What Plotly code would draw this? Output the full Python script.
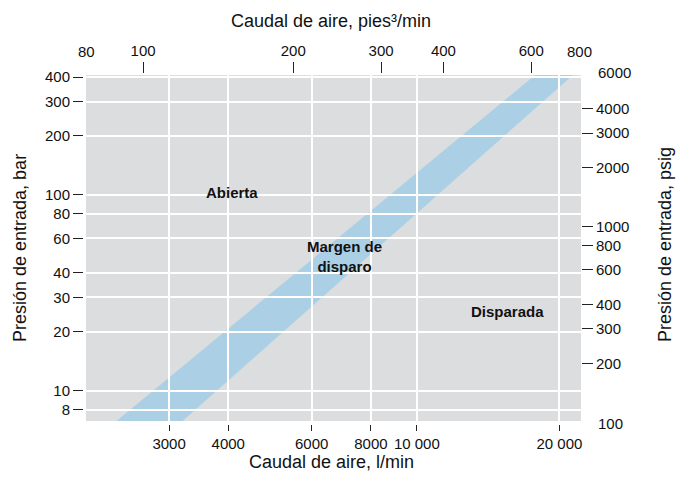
import numpy as np
import plotly.graph_objects as go

# ---------------- data ----------------
flow_lmin_ticks = [3000, 4000, 6000, 8000, 10000, 20000]
flow_lmin_labels = ["3000", "4000", "6000", "8000", "10 000", "20 000"]
flow_cfm_ticks = [100, 200, 300, 400, 600]
flow_cfm_edge_labels = ["80", "800"]
press_bar_ticks = [8, 10, 20, 30, 40, 60, 80, 100, 200, 300, 400]
press_psi_ticks = [200, 300, 400, 600, 800, 1000, 2000, 3000, 4000]
press_psi_edge_labels = ["100", "6000"]

# trip band (pressure in bar, flow in l/min)
band_pressure_bar = [6.8, 420]
band_flow_low = [2290, 18000]
band_flow_high = [3160, 21600]

region_labels = ["Abierta", "Margen de<br>disparo", "Disparada"]
region_flow = [4070, 7020, 15570]
region_press = [103, 48.7, 25.5]

# ---------------- styling ----------------
FONT = "Liberation Sans, Arial, Helvetica, sans-serif"
BG = "#dcdddf"
BAND = "#abd0e6"
TXT = "#111111"
TICKC = "#222222"

x_range = [3.3018, 4.3465]     # log10 l/min
y_range = [0.845, 2.6125]      # log10 bar
xt_range = [1.8856, 2.8778]    # log10 cfm
yr_range = [2.0065, 3.774]     # log10 psig

fig = go.Figure()

# band on base subplot (below the grid subplot)
fig.add_trace(go.Scatter(
    x=[band_flow_low[0], band_flow_low[1], band_flow_high[1], band_flow_high[0], band_flow_low[0]],
    y=[band_pressure_bar[0], band_pressure_bar[1], band_pressure_bar[1], band_pressure_bar[0], band_pressure_bar[0]],
    fill="toself", fillcolor=BAND, mode="lines", line=dict(width=0, color=BAND),
    hoverinfo="skip", showlegend=False, xaxis="x", yaxis="y"))

# helper empty traces so all axes are drawn
fig.add_trace(go.Scatter(x=[], y=[], xaxis="x2", yaxis="y2", showlegend=False))
fig.add_trace(go.Scatter(x=[], y=[], xaxis="x3", yaxis="y2", showlegend=False))
fig.add_trace(go.Scatter(x=[], y=[], xaxis="x2", yaxis="y3", showlegend=False))

tickfont = dict(family=FONT, size=15, color=TXT)

fig.update_layout(
    width=677, height=481, autosize=False,
    margin=dict(l=86, r=96, t=75, b=60),
    paper_bgcolor="white", plot_bgcolor="rgba(0,0,0,0)",
    font=dict(family=FONT, size=15, color=TXT),
    showlegend=False,
    xaxis=dict(type="log", range=x_range, domain=[0, 1], anchor="y",
               showgrid=False, zeroline=False, showline=False,
               showticklabels=False, ticks=""),
    yaxis=dict(type="log", range=y_range, domain=[0, 1], anchor="x",
               showgrid=False, zeroline=False, showline=False,
               showticklabels=False, ticks=""),
    xaxis2=dict(type="log", range=x_range, domain=[0, 1], anchor="y2",
                showgrid=True, gridcolor="white", gridwidth=2,
                zeroline=False, showline=False,
                tickmode="array", tickvals=flow_lmin_ticks, ticktext=flow_lmin_labels,
                ticks="outside", ticklen=9, tickwidth=1.3, tickcolor=TICKC,
                tickfont=tickfont),
    yaxis2=dict(type="log", range=y_range, domain=[0, 1], anchor="x2",
                showgrid=True, gridcolor="white", gridwidth=2,
                zeroline=False, showline=False,
                tickmode="array", tickvals=press_bar_ticks,
                ticktext=[str(v) for v in press_bar_ticks],
                ticks="outside", ticklen=12, tickwidth=1.3, tickcolor=TICKC,
                tickfont=tickfont),
    xaxis3=dict(type="log", range=xt_range, overlaying="x2", anchor="y2", side="top",
                showgrid=False, zeroline=False, showline=False,
                tickmode="array", tickvals=flow_cfm_ticks,
                ticktext=[str(v) for v in flow_cfm_ticks],
                ticks="outside", ticklen=12, tickwidth=1.3, tickcolor=TICKC,
                tickfont=tickfont),
    yaxis3=dict(type="log", range=yr_range, overlaying="y2", anchor="x2", side="right",
                showgrid=False, zeroline=False, showline=False,
                tickmode="array", tickvals=press_psi_ticks,
                ticktext=[str(v) for v in press_psi_ticks],
                ticks="outside", ticklen=11, tickwidth=1.3, tickcolor=TICKC,
                tickfont=tickfont),
)

ann = []
# region labels
for t, fx, py in zip(region_labels, region_flow, region_press):
    ann.append(dict(text="<b>%s</b>" % t, x=np.log10(fx), y=np.log10(py),
                    xref="x", yref="y", showarrow=False,
                    font=dict(family=FONT, size=15, color=TXT), align="center"))

# edge labels (no tick marks)
ann.append(dict(text=flow_cfm_edge_labels[0], x=0.0, y=(421 - 52) / 346, xref="paper", yref="paper",
                showarrow=False, xanchor="center", yanchor="middle", font=tickfont))
ann.append(dict(text=flow_cfm_edge_labels[1], x=(579 - 86) / 495, y=(421 - 52) / 346, xref="paper", yref="paper",
                showarrow=False, xanchor="center", yanchor="middle", font=tickfont))
ann.append(dict(text=press_psi_edge_labels[0], x=(596 - 86) / 495, y=(421 - 423) / 346, xref="paper", yref="paper",
                showarrow=False, xanchor="left", yanchor="middle", font=tickfont))
ann.append(dict(text=press_psi_edge_labels[1], x=(596 - 86) / 495, y=(421 - 72) / 346, xref="paper", yref="paper",
                showarrow=False, xanchor="left", yanchor="middle", font=tickfont))

# axis titles
title_font = dict(family=FONT, size=18, color=TXT)
ann.append(dict(text="Caudal de aire, pies³/min", x=(331 - 86) / 495, y=(421 - 21) / 346,
                xref="paper", yref="paper", showarrow=False, xanchor="center", yanchor="middle", font=title_font))
ann.append(dict(text="Caudal de aire, l/min", x=(331 - 86) / 495, y=(421 - 462) / 346,
                xref="paper", yref="paper", showarrow=False, xanchor="center", yanchor="middle", font=title_font))
ann.append(dict(text="Presión de entrada, bar", x=(20 - 86) / 495, y=(421 - 248) / 346, textangle=-90,
                xref="paper", yref="paper", showarrow=False, xanchor="center", yanchor="middle", font=title_font))
ann.append(dict(text="Presión de entrada, psig", x=(665 - 86) / 495, y=(421 - 245) / 346, textangle=-90,
                xref="paper", yref="paper", showarrow=False, xanchor="center", yanchor="middle", font=title_font))
fig.update_layout(annotations=ann)

shp = [
    # plot-area background drawn beneath both stacked subplots
    dict(type="rect", xref="paper", yref="paper", x0=0, x1=1, y0=0, y1=1,
         fillcolor=BG, line=dict(width=0), layer="below"),
    # thin white strips to leave a small gap between plot edge and tick marks
    dict(type="rect", xref="paper", yref="paper", x0=0, x1=1, y0=-4 / 346, y1=-0.5 / 346,
         fillcolor="white", line=dict(width=0), layer="above"),
    dict(type="rect", xref="paper", yref="paper", x0=-3 / 495, x1=-0.5 / 495, y0=0, y1=1,
         fillcolor="white", line=dict(width=0), layer="above"),
    dict(type="rect", xref="paper", yref="paper", x0=0, x1=1, y0=1 + 0.5 / 346, y1=1 + 2 / 346,
         fillcolor="white", line=dict(width=0), layer="above"),
]
fig.update_layout(shapes=shp)

fig.write_html("out.html", config={"displayModeBar": False})
